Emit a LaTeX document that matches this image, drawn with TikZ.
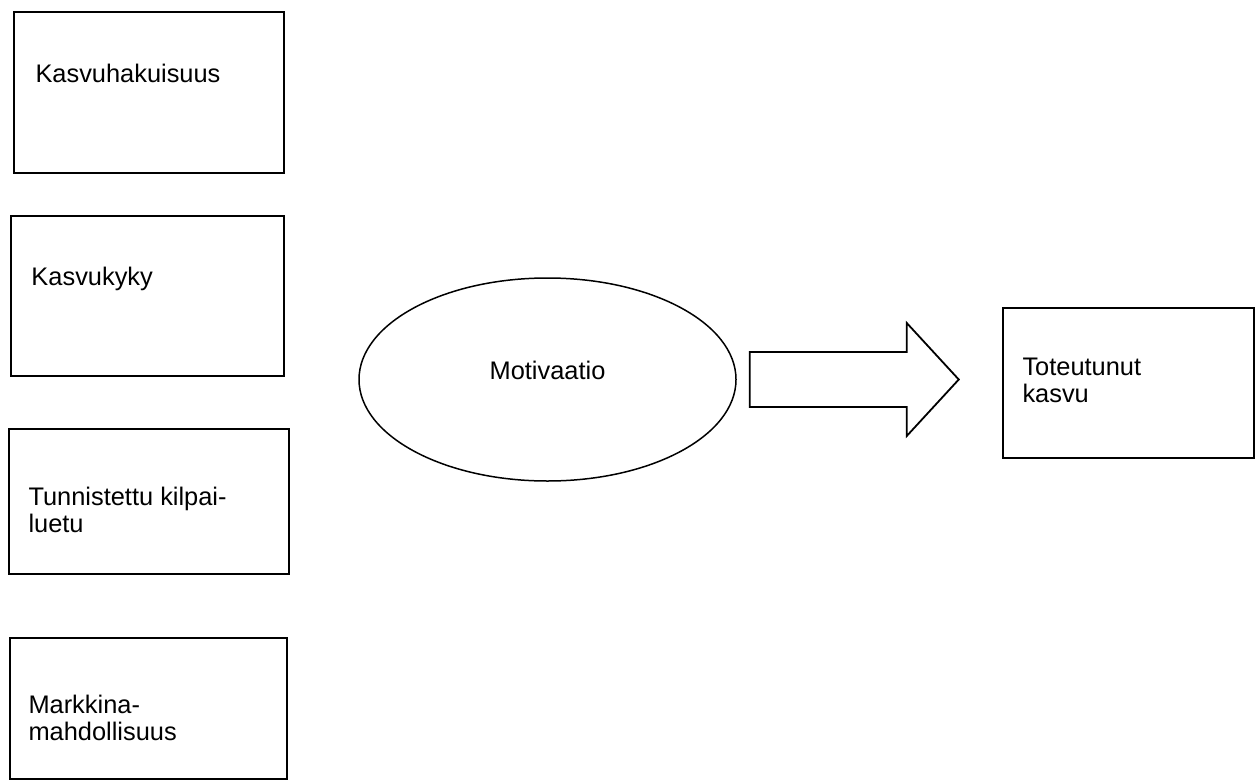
\documentclass[tikz,border=0pt]{standalone}
\usepackage{fontspec}
\setmainfont{Liberation Sans}
\usetikzlibrary{positioning,shapes.geometric}

\begin{document}
\begin{tikzpicture}[
        x=0.5pt, y=-0.5pt,
        box/.style={draw, line width=0.9pt, inner sep=0pt},
        txt/.style={anchor=base west, inner sep=0pt, align=left, font=\fontsize{12.7}{13.5}\selectfont},
        motiv/.style={ellipse, draw, line width=0.75pt, minimum width=188.5pt, minimum height=101.5pt, inner sep=0pt,
                      text height=5pt, text depth=5pt, font=\fontsize{12.7}{13.5}\selectfont},
        blockarr/.style={draw, line width=0.9pt, line join=miter}
      ]
      \useasboundingbox (0,0) rectangle (1256,781);

      % Left column
      \node[box, minimum width=135pt, minimum height=80.5pt] (hak) at (149,92.5) {};
      \node[txt] (hakt) at ([shift={(11pt,-35.5pt)}]hak.north west) {Kasvuhakuisuus};

      \node[box, minimum width=136.5pt, minimum height=80pt] (kyky) at (147.5,296) {};
      \node[txt] (kykyt) at ([shift={(10.5pt,-35pt)}]kyky.north west) {Kasvukyky};

      \node[box, minimum width=140pt, minimum height=72.5pt] (kilp) at (149,501.5) {};
      \node[txt] (kilpt) at ([shift={(10pt,-52pt)}]kilp.north west) {Tunnistettu kilpai-\\luetu};

      \node[box, minimum width=138.5pt, minimum height=70.5pt] (mark) at (148.5,708.5) {};
      \node[txt] (markt) at ([shift={(9.5pt,-51.5pt)}]mark.north west) {Markkina-\\mahdollisuus};

      % Middle
      \node[motiv] (mot) at (547.5,379.5) {Motivaatio};

      % Right
      \node[box, minimum width=125.5pt, minimum height=75pt] (kasvu) at (1128.5,383) {};
      \node[txt] (kasvut) at ([shift={(10pt,-47.5pt)}]kasvu.north west) {Toteutunut\\kasvu};

      % Block arrow
      \draw[blockarr] ([xshift=6.5pt]mot.east) ++(0,-27.5) -- ++(157,0) -- ++(0,-29) -- ++(52,56.5)
            -- ++(-52,56.5) -- ++(0,-29) -- ++(-157,0) -- cycle;

\end{tikzpicture}
\end{document}
